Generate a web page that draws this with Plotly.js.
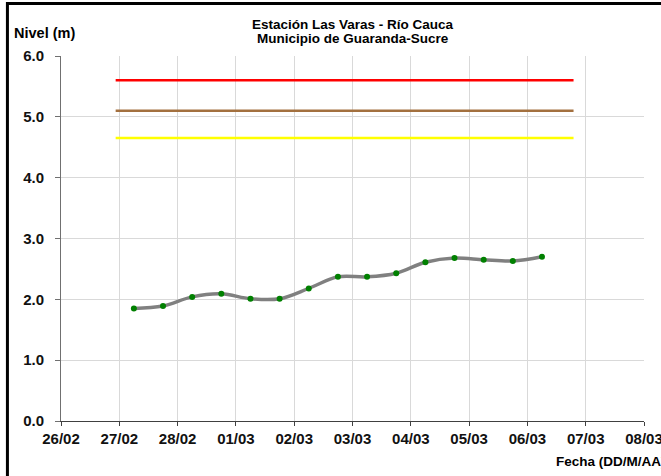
<!DOCTYPE html>
<html>
<head>
<meta charset="utf-8">
<script src="https://cdn.plot.ly/plotly-3.0.1.min.js"></script>
<style>html,body{margin:0;padding:0;background:#fff;}#chart{width:661px;height:476px;}</style>
</head>
<body>
<div id="chart"></div>
<script>
// Data
const fechas = [
  '2011-02-27 06:00', '2011-02-27 18:00',
  '2011-02-28 06:00', '2011-02-28 18:00',
  '2011-03-01 06:00', '2011-03-01 18:00',
  '2011-03-02 06:00', '2011-03-02 18:00',
  '2011-03-03 06:00', '2011-03-03 18:00',
  '2011-03-04 06:00', '2011-03-04 18:00',
  '2011-03-05 06:00', '2011-03-05 18:00',
  '2011-03-06 06:00'
];
const niveles = [1.85, 1.89, 2.04, 2.09, 2.01, 2.01, 2.18, 2.37, 2.37, 2.43, 2.61, 2.68, 2.65, 2.63, 2.70];

const umbralFechas = ['2011-02-26 22:30', '2011-03-06 19:00'];
const umbralRojo = [5.6, 5.6];
const umbralNaranja = [5.1, 5.1];
const umbralAmarillo = [4.65, 4.65];

const tituloLinea1 = 'Estación Las Varas - Río Cauca';
const tituloLinea2 = 'Municipio de Guaranda-Sucre';
const tituloY = 'Nivel (m)';
const tituloX = 'Fecha (DD/M/AA)';

const FONT = 'Liberation Sans, Arial, sans-serif';

const traces = [
  {x: umbralFechas, y: umbralRojo, mode: 'lines', line: {color: '#FF0000', width: 2.5}, hoverinfo: 'skip'},
  {x: umbralFechas, y: umbralNaranja, mode: 'lines', line: {color: '#A3703F', width: 2.5}, hoverinfo: 'skip'},
  {x: umbralFechas, y: umbralAmarillo, mode: 'lines', line: {color: '#FFFF00', width: 2.5}, hoverinfo: 'skip'},
  {x: fechas, y: niveles, mode: 'lines+markers',
   line: {color: '#808080', width: 3.5, shape: 'spline', smoothing: 1},
   marker: {color: '#008000', size: 6}}
];

const layout = {
  width: 661, height: 476,
  margin: {l: 61, r: 17, t: 56, b: 55},
  paper_bgcolor: '#ffffff', plot_bgcolor: '#ffffff',
  showlegend: false,
  font: {family: FONT, color: '#000'},
  xaxis: {
    type: 'date',
    range: ['2011-02-26', '2011-03-08'],
    tick0: '2011-02-26', dtick: 86400000,
    tickformat: '%d/%m',
    showgrid: true, gridcolor: '#d9d9d9', gridwidth: 1,
    showline: true, linecolor: '#404040', linewidth: 1,
    ticks: 'outside', ticklen: 4, tickcolor: '#404040',
    ticklabeloverflow: 'allow',
    tickfont: {family: FONT, size: 15, weight: 'bold', color: '#111'},
    zeroline: false, fixedrange: true
  },
  yaxis: {
    range: [0, 6], dtick: 1, tick0: 0,
    tickformat: '.1f',
    showgrid: true, gridcolor: '#d9d9d9', gridwidth: 1,
    showline: true, linecolor: '#707070', linewidth: 1,
    ticks: 'outside', ticklen: 5, tickcolor: '#707070',
    ticklabelstandoff: 8,
    ticklabeloverflow: 'allow',
    tickfont: {family: FONT, size: 15, weight: 'bold', color: '#111'},
    zeroline: false, fixedrange: true
  },
  annotations: [
    {text: tituloLinea1, xref: 'paper', yref: 'paper', x: 0.5, y: 1.0858, xanchor: 'center', yanchor: 'middle', showarrow: false,
     font: {family: FONT, size: 13.5, weight: 'bold', color: '#000'}},
    {text: tituloLinea2, xref: 'paper', yref: 'paper', x: 0.5, y: 1.0479, xanchor: 'center', yanchor: 'middle', showarrow: false,
     font: {family: FONT, size: 13.5, weight: 'bold', color: '#000'}},
    {text: tituloY, xref: 'paper', yref: 'paper', x: -0.0846, y: 1.063, xanchor: 'left', yanchor: 'middle', showarrow: false,
     font: {family: FONT, size: 14.5, weight: 'bold', color: '#000'}},
    {text: tituloX, xref: 'paper', yref: 'paper', x: 0.8456, y: -0.1123, xanchor: 'left', yanchor: 'middle', showarrow: false,
     font: {family: FONT, size: 13.5, weight: 'bold', color: '#000'}}
  ],
  shapes: [
    {type: 'rect', xref: 'paper', yref: 'paper', x0: -0.0919, x1: 1.3, y0: -0.4, y1: 1.1438,
     line: {color: '#000', width: 3}, fillcolor: 'rgba(0,0,0,0)', layer: 'above'}
  ]
};

Plotly.newPlot('chart', traces, layout, {displayModeBar: false, staticPlot: true});
</script>
</body>
</html>
